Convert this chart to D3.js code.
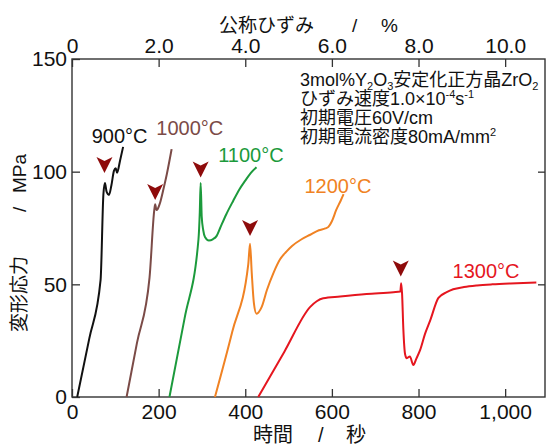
<!DOCTYPE html>
<html>
<head>
<meta charset="utf-8">
<script src="https://cdn.jsdelivr.net/npm/d3@7"></script>
<style>
  body { margin: 0; background: #fff; }
  text { font-family: "Liberation Sans", Arial, "Noto Sans CJK JP", sans-serif; }
</style>
</head>
<body>
<div id="chart"></div>
<script>
"use-strict";

// time (s) and stress (MPa) for each test temperature
const t900 = [12, 40, 66, 72.5, 76, 80, 85.5, 91, 97, 101, 104, 111, 118];
const s900 = [0, 26, 52, 90, 95, 91, 89.7, 94, 100.5, 101.5, 99.5, 105, 111];

const t1000 = [126, 150, 179, 190, 192, 195, 198, 203, 212, 219, 230];
const s1000 = [0, 24, 53, 83, 85.5, 83, 83.5, 86, 93, 99, 110];

const t1100 = [225, 260, 292, 295, 297, 299.5, 303, 307, 316, 325, 334, 342, 356, 372, 386, 400, 413, 426];
const s1100 = [0, 35, 70, 82, 95, 80, 74, 71, 69.5, 70, 71.5, 75, 81, 87, 92, 96, 99.5, 102];

const t1200 = [330, 370, 407, 411, 415, 420, 426, 438, 450, 465, 480, 495, 508, 530, 550, 570, 585, 592, 600, 610, 620, 627];
const s1200 = [0, 29, 59, 68, 55, 41.6, 37, 40, 47.5, 55, 61, 64.5, 67, 70, 72, 74, 74.8, 75.5, 78, 83, 87, 90];

const t1300 = [430, 490, 550, 565, 580, 619, 680, 742, 758, 760, 762, 765, 769, 773, 780, 788, 795, 804, 815, 827, 846, 865, 880, 905, 935, 970, 1012, 1072];
const s1300 = [0, 20, 40, 42.5, 43.8, 44.6, 45.7, 46.5, 46.8, 50.5, 46, 30, 19, 17.2, 18, 14.2, 17, 21, 28, 34, 44, 46.5, 47.8, 48.8, 49.5, 50, 50.4, 50.8];

const seriesNames = ["900°C", "1000°C", "1100°C", "1200°C", "1300°C"];
const seriesColors = ["#111111", "#7b4b47", "#1c9a3c", "#f08223", "#e5161f"];

// where the temperature labels sit (time, stress)
const labelT = [110, 272, 413, 614, 956];
const labelS = [112.7, 116.3, 104.3, 90.5, 53];

// yield markers (time, stress)
const markT = [75, 192, 297, 411, 759];
const markS = [103, 91, 101, 75, 57];

const timeTicks = [0, 200, 400, 600, 800, 1000];
const strainTicks = [0, 2, 4, 6, 8, 10];
const stressTicks = [0, 50, 100, 150];

const msm = {
    width: 547,
    height: 445,
    left: 72,
    right: 545,
    top: 59,
    bottom: 397
}

window.onload = function () {
    let svg = d3.select("#chart")
        .append("svg")
        .attr("width", msm.width)
        .attr("height", msm.height);

    let xScale = d3.scaleLinear().domain([0, 1092]).range([msm.left, msm.right]);
    // nominal strain: 2 % per 200 s
    let xStrain = d3.scaleLinear().domain([0, 10.92]).range([msm.left, msm.right]);
    let yScale = d3.scaleLinear().domain([0, 150]).range([msm.bottom, msm.top]);

    drawAxes(svg, xScale, xStrain, yScale);
    plotCurves(svg, xScale, yScale);
    drawNotes(svg);
}

function drawAxes(svg, xScale, xStrain, yScale) {
    // bottom axis, ticks pointing in
    let xAxis = d3.axisBottom(xScale).tickValues(timeTicks)
        .tickSizeInner(-8).tickSizeOuter(0).tickPadding(7);
    let gx = svg.append("g")
        .attr("transform", "translate(0," + msm.bottom + ")")
        .call(xAxis);

    let topAxis = d3.axisTop(xStrain).tickValues(strainTicks)
        .tickFormat(d => d === 0 ? "0" : d.toFixed(1))
        .tickSizeInner(-8).tickSizeOuter(0).tickPadding(6);
    let gt = svg.append("g")
        .attr("transform", "translate(0," + msm.top + ")")
        .call(topAxis);

    let yAxis = d3.axisLeft(yScale).tickValues(stressTicks)
        .tickSizeInner(-8).tickSizeOuter(0).tickPadding(5);
    let gy = svg.append("g")
        .attr("transform", "translate(" + msm.left + ",0)")
        .call(yAxis);

    let rightAxis = d3.axisRight(yScale).tickValues([50, 100])
        .tickSizeInner(-7).tickSizeOuter(0).tickFormat("");
    let gr = svg.append("g")
        .attr("transform", "translate(" + msm.right + ",0)")
        .call(rightAxis);

    [gx, gt, gy, gr].forEach(g => {
        g.select(".domain").remove();
        g.selectAll(".tick line").attr("stroke", "#333").attr("stroke-width", 1.3);
        g.selectAll("text").style("font-size", "21px").attr("fill", "#111")
            .style("font-family", '"Liberation Sans", Arial, sans-serif');
    });

    // frame
    svg.append("rect")
        .attr("x", msm.left)
        .attr("y", msm.top)
        .attr("width", msm.right - msm.left)
        .attr("height", msm.bottom - msm.top)
        .attr("fill", "none")
        .attr("stroke", "#333")
        .attr("stroke-width", 1.4);

    // axis titles
    let top = svg.append("text")
        .attr("y", 32)
        .style("font-size", "19px")
        .attr("fill", "#111");
    top.append("tspan").attr("x", 219).text("公称ひずみ");
    top.append("tspan").attr("x", 352).text("/");
    top.append("tspan").attr("x", 381).text("%");

    let bottom = svg.append("text")
        .attr("y", 442)
        .style("font-size", "20px")
        .attr("fill", "#111");
    bottom.append("tspan").attr("x", 253).text("時間");
    bottom.append("tspan").attr("x", 318).text("/");
    bottom.append("tspan").attr("x", 346).text("秒");

    let left = svg.append("text")
        .attr("transform", "translate(26,0) rotate(-90)")
        .style("font-size", "19px")
        .attr("fill", "#111");
    left.append("tspan").attr("x", -332).text("変形応力");
    left.append("tspan").attr("x", -212).text("/");
    left.append("tspan").attr("x", -193).text("MPa");
}

function plotCurves(svg, xScale, yScale) {
    let times = [t900, t1000, t1100, t1200, t1300];
    let stresses = [s900, s1000, s1100, s1200, s1300];

    let line = d3.line()
        .x(d => xScale(d[0]))
        .y(d => yScale(d[1]))
        .curve(d3.curveMonotoneX);

    seriesNames.forEach((name, i) => {
        let pts = times[i].map((t, j) => [t, stresses[i][j]]);
        svg.append("path")
            .datum(pts)
            .attr("d", line)
            .attr("fill", "none")
            .attr("stroke", seriesColors[i])
            .attr("stroke-width", 2)
            .attr("stroke-linejoin", "round");

        svg.append("text")
            .attr("x", xScale(labelT[i]))
            .attr("y", yScale(labelS[i]))
            .attr("text-anchor", "middle")
            .style("font-size", "20px")
            .attr("fill", seriesColors[i])
            .text(name);
    });

    // arrowhead markers above the yield drops
    svg.selectAll(".mark")
        .data(markT)
        .enter()
        .append("path")
        .attr("class", "mark")
        .attr("transform", (d, i) => "translate(" + xScale(d) + "," + yScale(markS[i]) + ")")
        .attr("d", "M-8,-8 L0,-4 L8,-8 L0,8 Z")
        .attr("fill", "#8e0b0b");
}

function drawNotes(svg) {
    let g = svg.append("g")
        .attr("transform", "translate(300,0)")
        .style("font-size", "18px")
        .attr("fill", "#111");

    let l1 = g.append("text").attr("y", 86);
    l1.append("tspan").attr("x", 0).text("3mol%Y");
    l1.append("tspan").attr("dy", 4).style("font-size", "11px").text("2");
    l1.append("tspan").attr("dy", -4).text("O");
    l1.append("tspan").attr("dy", 4).style("font-size", "11px").text("3");
    l1.append("tspan").attr("dy", -4).text("安定化正方晶ZrO");
    l1.append("tspan").attr("dy", 4).style("font-size", "11px").text("2");

    let l2 = g.append("text").attr("y", 105);
    l2.append("tspan").attr("x", 0).text("ひずみ速度1.0×10");
    l2.append("tspan").attr("dy", -7).style("font-size", "11px").text("-4");
    l2.append("tspan").attr("dy", 7).text("s");
    l2.append("tspan").attr("dy", -7).style("font-size", "11px").text("-1");

    g.append("text").attr("y", 124).attr("x", 0).text("初期電圧60V/cm");

    let l4 = g.append("text").attr("y", 143);
    l4.append("tspan").attr("x", 0).text("初期電流密度80mA/mm");
    l4.append("tspan").attr("dy", -7).style("font-size", "11px").text("2");
}
</script>
</body>
</html>
